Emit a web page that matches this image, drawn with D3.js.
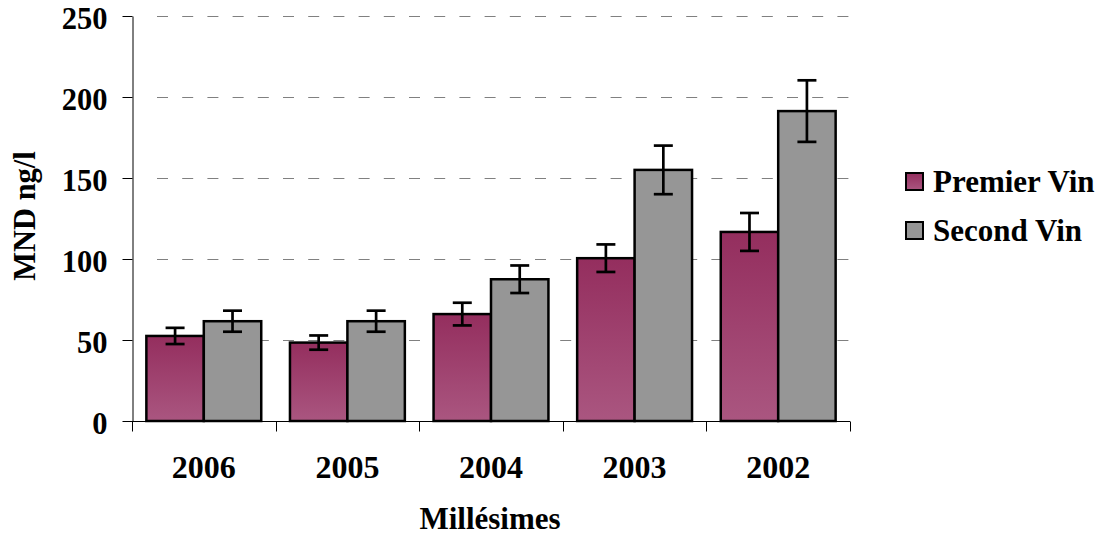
<!DOCTYPE html>
<html><head><meta charset="utf-8">
<script src="https://cdn.jsdelivr.net/npm/d3@7"></script>
<style>
html,body{margin:0;padding:0;background:#fff;}
svg text{font-family:"Liberation Serif","Times New Roman",serif;font-weight:bold;fill:#000;}
</style></head>
<body>
<script>
const categories = ["2006","2005","2004","2003","2002"];
const seriesNames = ["Premier Vin","Second Vin"];
const premierValues = [52.5, 48.4, 66, 100.5, 116.7];
const premierErrors = [5, 4.4, 7, 8.5, 11.7];
const secondValues = [61.6, 61.6, 87.5, 155, 191.3];
const secondErrors = [6.5, 6.5, 8.5, 15, 19];
const yTicks = [0, 50, 100, 150, 200, 250];
const yTitle = "MND ng/l";
const xTitle = "Millésimes";

const W = 1099, H = 536;
const plot = {left: 132, right: 850, top: 16, bottom: 421};

const svg = d3.select("body").append("svg").attr("width", W).attr("height", H);
const defs = svg.append("defs");
const grad = defs.append("linearGradient").attr("id","gPrem").attr("x1",0).attr("y1",0).attr("x2",0).attr("y2",1);
grad.append("stop").attr("offset","0%").attr("stop-color","#942e5e");
grad.append("stop").attr("offset","100%").attr("stop-color","#aa5680");

const x = d3.scaleBand().domain(categories).range([plot.left, plot.right]).paddingInner(0).paddingOuter(0);
const y = d3.scaleLinear().domain([0, 250]).range([plot.bottom, plot.top]);
const sub = d3.scaleBand().domain(seriesNames).range([0, x.bandwidth()]).paddingInner(0).paddingOuter(0.25);

// gridlines
svg.append("g").selectAll("line").data(yTicks.filter(d => d > 0)).join("line")
  .attr("x1", plot.left + 25).attr("x2", plot.right)
  .attr("y1", d => Math.round(y(d)) + 0.5).attr("y2", d => Math.round(y(d)) + 0.5)
  .attr("stroke", "#808080").attr("stroke-width", 1.2).attr("stroke-dasharray", "11,14.2");

// y axis
const yAxis = svg.append("g").attr("transform", `translate(${plot.left + 0.5},0)`)
  .call(d3.axisLeft(y).tickValues(yTicks).tickSize(10).tickPadding(15).tickSizeOuter(0));
yAxis.select(".domain").attr("stroke", "#000");
yAxis.selectAll(".tick line").attr("stroke", "#000");
yAxis.selectAll("text").attr("font-size", 30.5).attr("dy", "0.41em")
  .style("font-family", '"Liberation Serif","Times New Roman",serif').style("font-weight","bold");

// bars
const data = categories.map((c, i) => ({c, vals: [
  {s: seriesNames[0], v: premierValues[i], e: premierErrors[i]},
  {s: seriesNames[1], v: secondValues[i], e: secondErrors[i]}]}));
const groups = svg.append("g").selectAll("g").data(data).join("g")
  .attr("transform", d => `translate(${x(d.c)},0)`);
groups.selectAll("rect").data(d => d.vals).join("rect")
  .attr("x", d => sub(d.s)).attr("width", sub.bandwidth())
  .attr("y", d => y(d.v)).attr("height", d => y(0) - y(d.v))
  .attr("fill", d => d.s === seriesNames[0] ? "url(#gPrem)" : "#969696")
  .attr("stroke", "#000").attr("stroke-width", 2.5);

// error bars
const eb = groups.selectAll("g.err").data(d => d.vals).join("g").attr("class","err");
eb.append("line")
  .attr("x1", d => sub(d.s) + sub.bandwidth()/2).attr("x2", d => sub(d.s) + sub.bandwidth()/2)
  .attr("y1", d => y(d.v + d.e)).attr("y2", d => y(d.v - d.e))
  .attr("stroke", "#000").attr("stroke-width", 2.7);
eb.selectAll("line.cap").data(d => [{d, val: d.v + d.e}, {d, val: d.v - d.e}]).join("line").attr("class","cap")
  .attr("x1", o => sub(o.d.s) + sub.bandwidth()/2 - 9.5).attr("x2", o => sub(o.d.s) + sub.bandwidth()/2 + 9.5)
  .attr("y1", o => y(o.val)).attr("y2", o => y(o.val))
  .attr("stroke", "#000").attr("stroke-width", 2.7);

// x axis
const xAxisG = svg.append("g").attr("transform", `translate(0,${plot.bottom + 0.5})`);
xAxisG.append("line").attr("x1", plot.left).attr("x2", plot.right).attr("stroke", "#000");
const bounds = categories.map(c => x(c)).concat([plot.right]);
xAxisG.selectAll("line.t").data(bounds).join("line").attr("class","t")
  .attr("x1", d => Math.round(d) + 0.5).attr("x2", d => Math.round(d) + 0.5)
  .attr("y1", 0).attr("y2", 10).attr("stroke", "#000");
xAxisG.selectAll("text").data(categories).join("text")
  .attr("x", d => x(d) + x.bandwidth()/2).attr("y", 56)
  .attr("text-anchor", "middle").attr("font-size", 32).text(d => d);

// titles
svg.append("text").attr("x", 490).attr("y", 529).attr("text-anchor", "middle")
  .attr("font-size", 31).text(xTitle);
svg.append("text").attr("transform", "translate(35,216) rotate(-90)").attr("text-anchor", "middle")
  .attr("font-size", 30.5).text(yTitle);

// legend
const leg = svg.append("g").selectAll("g").data(seriesNames).join("g")
  .attr("transform", (d, i) => `translate(906,${173 + i * 49})`);
leg.append("rect").attr("width", 17).attr("height", 17)
  .attr("fill", (d, i) => i === 0 ? "url(#gPrem)" : "#969696")
  .attr("stroke", "#000").attr("stroke-width", 2);
leg.append("text").attr("x", 27).attr("y", 18.5).attr("font-size", 31).text(d => d);
</script>
</body></html>
